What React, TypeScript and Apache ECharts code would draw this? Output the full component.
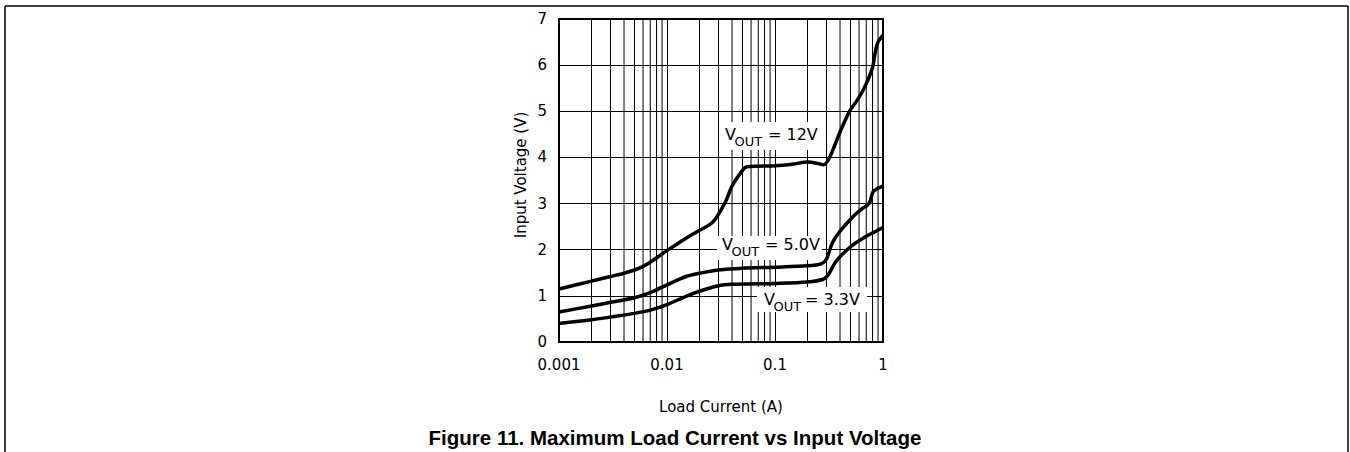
import React, { useEffect, useRef } from "react";
import * as echarts from "echarts";

// Load current (A) and input voltage (V) for each output voltage
const current12 = [0.001, 0.002, 0.003, 0.004, 0.005, 0.006, 0.007, 0.01, 0.015, 0.02, 0.025, 0.028, 0.035, 0.04, 0.05, 0.055, 0.07, 0.1, 0.15, 0.2, 0.25, 0.28, 0.32, 0.4, 0.49, 0.6, 0.7, 0.8, 0.85, 0.9, 1.0];
const vin12 = [1.15, 1.32, 1.42, 1.49, 1.56, 1.64, 1.73, 1.98, 2.25, 2.42, 2.55, 2.66, 3.05, 3.38, 3.72, 3.8, 3.81, 3.82, 3.86, 3.9, 3.87, 3.84, 4.0, 4.55, 5.0, 5.3, 5.6, 5.95, 6.3, 6.5, 6.65];

const current5 = [0.001, 0.002, 0.003, 0.005, 0.007, 0.01, 0.015, 0.02, 0.03, 0.05, 0.1, 0.2, 0.27, 0.3, 0.34, 0.4, 0.53, 0.65, 0.72, 0.76, 0.81, 0.9, 1.0];
const vin5 = [0.65, 0.78, 0.86, 0.96, 1.07, 1.24, 1.42, 1.49, 1.56, 1.6, 1.62, 1.65, 1.7, 1.8, 2.15, 2.4, 2.72, 2.9, 2.97, 3.05, 3.26, 3.33, 3.38];

const current33 = [0.001, 0.002, 0.003, 0.005, 0.007, 0.01, 0.015, 0.02, 0.03, 0.04, 0.1, 0.2, 0.28, 0.31, 0.36, 0.4, 0.53, 0.7, 0.75, 0.81, 1.0];
const vin33 = [0.4, 0.48, 0.54, 0.62, 0.69, 0.81, 0.99, 1.1, 1.22, 1.25, 1.27, 1.3, 1.36, 1.45, 1.72, 1.85, 2.11, 2.29, 2.33, 2.37, 2.48];

// Minor grid positions of the logarithmic current axis
const minorCurrents = [
  0.002, 0.003, 0.004, 0.005, 0.006, 0.007, 0.008, 0.009,
  0.02, 0.03, 0.04, 0.05, 0.06, 0.07, 0.08, 0.09,
  0.2, 0.3, 0.4, 0.5, 0.6, 0.7, 0.8, 0.9,
];

const xTickLabels: Record<string, string> = { "0.001": "0.001", "0.01": "0.01", "0.1": "0.1", "1": "1" };
const yTickLabels = ["0", "1", "2", "3", "4", "5", "6", "7"];

const titleText = "Figure 11. Maximum Load Current vs Input Voltage";
const xName = "Load Current (A)";
const yName = "Input Voltage (V)";

const FONT = "'DejaVu Sans', sans-serif";

function pair(xs: number[], ys: number[]) {
  return xs.map((x, i) => [x, ys[i]]);
}

function vLabel(
  box: [number, number, number, number],
  vx: number,
  vy: number,
  eqX: number,
  value: string
) {
  return {
    type: "group",
    z: 100,
    children: [
      { type: "rect", shape: { x: box[0], y: box[1], width: box[2], height: box[3] }, style: { fill: "#fff" }, z: 100 },
      { type: "text", x: vx, y: vy, z: 101, style: { text: "V", font: `16px ${FONT}`, fill: "#000", verticalAlign: "middle", align: "left" } },
      { type: "text", x: vx + 9.5, y: vy + 7, z: 101, style: { text: "OUT", font: `13px ${FONT}`, fill: "#000", verticalAlign: "middle", align: "left" } },
      { type: "text", x: eqX, y: vy, z: 101, style: { text: "= " + value, font: `16px ${FONT}`, fill: "#000", verticalAlign: "middle", align: "left" } },
    ],
  };
}

export default function App() {
  const ref = useRef<HTMLDivElement>(null);
  useEffect(() => {
    const chart = echarts.init(ref.current!, null, { renderer: "svg" });
    const lineStyle = { color: "#000", width: 3.5 };
    const option: any = {
      animation: false,
      backgroundColor: "#fff",
      grid: {
        left: 559,
        right: 1350 - 883,
        top: 19,
        bottom: 452 - 342,
        show: true,
        borderColor: "#000",
        borderWidth: 2,
        backgroundColor: "transparent",
      },
      xAxis: {
        type: "log",
        logBase: 10,
        min: 0.001,
        max: 1,
        axisLine: { show: true, lineStyle: { color: "#000", width: 2 } },
        axisTick: { show: false },
        splitLine: { show: true, lineStyle: { color: "#000", width: 1 } },
        axisLabel: {
          color: "#000",
          fontFamily: FONT,
          fontSize: 15,
          margin: 15,
          formatter: (v: number) => xTickLabels[String(+v.toPrecision(3))] ?? String(v),
        },
      },
      yAxis: {
        type: "value",
        min: 0,
        max: 7,
        interval: 1,
        axisLine: { show: true, lineStyle: { color: "#000", width: 2 } },
        axisTick: { show: false },
        splitLine: { show: true, lineStyle: { color: "#000", width: 1 } },
        axisLabel: {
          color: "#000",
          fontFamily: FONT,
          fontSize: 15,
          margin: 12,
          formatter: (v: number) => yTickLabels[Math.round(v)] ?? String(v),
        },
      },
      series: [
        {
          type: "custom",
          silent: true,
          z: 1,
          clip: false,
          data: minorCurrents.map((c) => [c, 0]),
          encode: { x: 0, y: 1 },
          renderItem: (params: any, api: any) => {
            const c = api.value(0);
            const p1 = api.coord([c, 0]);
            const p2 = api.coord([c, 7]);
            return {
              type: "line",
              shape: { x1: p1[0], y1: p1[1], x2: p2[0], y2: p2[1] },
              style: { stroke: "#000", lineWidth: 1 },
            };
          },
        },
        { type: "line", name: "12V", data: pair(current12, vin12), smooth: 0.3, showSymbol: false, lineStyle, z: 5, silent: true },
        { type: "line", name: "5.0V", data: pair(current5, vin5), smooth: 0.3, showSymbol: false, lineStyle, z: 5, silent: true },
        { type: "line", name: "3.3V", data: pair(current33, vin33), smooth: 0.3, showSymbol: false, lineStyle, z: 5, silent: true },
      ],
      graphic: [
        { type: "line", shape: { x1: 5, y1: 6, x2: 1348, y2: 6 }, style: { stroke: "#000", lineWidth: 1.5 } },
        { type: "line", shape: { x1: 5, y1: 6, x2: 5, y2: 452 }, style: { stroke: "#000", lineWidth: 1.5 } },
        { type: "line", shape: { x1: 1348, y1: 6, x2: 1348, y2: 452 }, style: { stroke: "#000", lineWidth: 1.5 } },
        {
          type: "text",
          x: 675,
          y: 437,
          style: { text: titleText, font: `bold 20.5px 'Liberation Sans', Arial, sans-serif`, fill: "#000", align: "center", verticalAlign: "middle" },
        },
        {
          type: "text",
          x: 721,
          y: 407,
          style: { text: xName, font: `15px ${FONT}`, fill: "#000", align: "center", verticalAlign: "middle" },
        },
        {
          type: "text",
          x: 521,
          y: 175,
          rotation: Math.PI / 2,
          style: { text: yName, font: `15px ${FONT}`, fill: "#000", align: "center", verticalAlign: "middle" },
        },
        vLabel([722, 122, 101, 28], 725, 134.5, 768, "12V"),
        vLabel([717, 236, 105, 24], 722, 244, 765, "5.0V"),
        vLabel([757, 287, 110, 25], 764, 299, 805, "3.3V"),
      ],
    };
    chart.setOption(option);
    return () => chart.dispose();
  }, []);
  return <div ref={ref} style={{ position: "absolute", left: 0, top: 0, width: 1350, height: 452 }} />;
}
